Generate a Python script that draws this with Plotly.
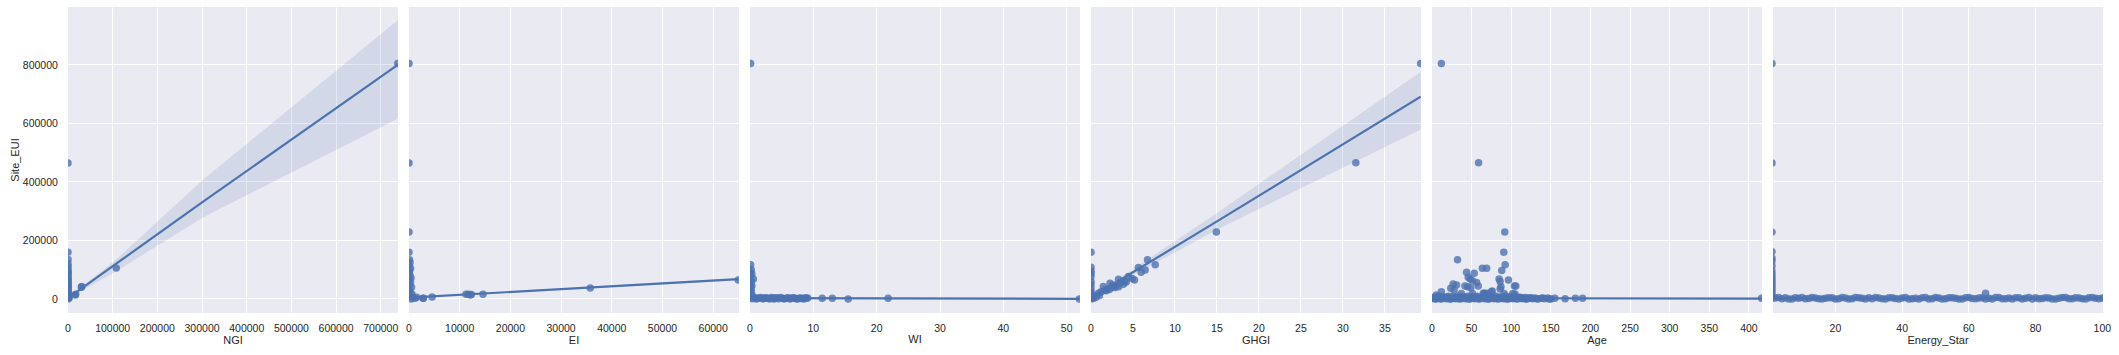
import plotly.graph_objects as go

# ---------------- data ----------------
y_label = "Site_EUI"

# NGI panel
ngi_x = [0, 0, 200, 100, 300, 0, 500, 200, 0, 400, 100, 600, 0, 300, 800, 0, 200, 1200, 500, 0, 1500, 2500, 900,
         16500, 17200, 30000, 30600, 108000, 738000]
ngi_y = [465000, 160000, 135000, 120000, 110000, 100000, 92000, 85000, 78000, 70000, 64000, 57000, 50000, 44000,
         38000, 32000, 26000, 20000, 15000, 10000, 6000, 3000, 1000,
         13700, 16000, 40000, 42200, 106000, 805000]
ngi_fit_x = [0, 108000, 300000, 738000]
ngi_fit_y = [3000, 119700, 330000, 800000]
ngi_ci_hi = [6000, 135000, 405000, 953000]
ngi_ci_lo = [1000, 95000, 277000, 616000]

# EI panel
ei_x = [0, 0, 0, 0, 100, 200, 0, 300, 100, 0, 200, 400, 0, 300, 100, 500, 0, 200, 600, 0, 800, 1200, 1500, 400,
        2760, 2830, 4560, 11240, 11700, 12100, 12300, 14600, 35760, 64950]
ei_y = [805000, 465000, 228600, 160000, 133700, 125000, 115000, 105000, 95000, 88000, 80000, 72000, 64000, 56000,
        48000, 40000, 32000, 24000, 16000, 8000, 4000, 2000, 6000, 0,
        2400, 2000, 6900, 16000, 16500, 13700, 15000, 16500, 37700, 65100]
ei_fit_x = [0, 64950]
ei_fit_y = [4500, 67500]
ei_ci_hi = [5500, 72000]
ei_ci_lo = [3500, 63000]

# WI panel
wi_x = [0.1, 0.1, 0.2, 0.0, 0.3, 0.1, 0.53, 0.2, 0.0, 0.3, 0.1, 0.2, 0.0, 0.3, 0.1, 0.0,
        0.3, 0.8, 1.2, 1.7, 2.2, 2.6, 3.1, 3.6, 4.0, 4.5, 5.0, 5.5, 6.0, 6.5, 7.0, 7.5, 7.7, 8.2, 8.7, 9.1,
        0.5, 1.0, 1.5, 2.0, 2.4, 2.9, 3.4, 3.8, 4.3, 4.8, 5.3, 5.8, 6.3, 6.8, 7.3, 8.0, 8.5, 8.9,
        11.4, 13.0, 15.5, 21.8, 52.0]
wi_y = [805000, 116600, 100000, 92000, 85000, 78000, 68600, 60000, 52000, 45000, 38000, 30000, 22000, 15000, 8000,
        3000,
        1000, 4000, 2000, 5000, 1500, 3500, 0, 2500, 4500, 1000, 3000, 500, 4000, 2000, 3500, 0, 2500, 1500, 4000, 3000,
        5000, 0, 3000, 500, 4500, 2000, 5000, 0, 3000, 5000, 1000, 3500, 0, 4500, 1000, 3500, 0, 2000,
        2300, 2300, 0, 2300, 0]
wi_fit_x = [0, 52.0]
wi_fit_y = [3000, 500]
wi_ci_hi = [3800, 3500]
wi_ci_lo = [2200, -2500]

# GHGI panel
ghgi_x = [0, 0, 0, 0, 0, 0, 0, 0, 0, 0, 0, 0,
          39.26, 31.54, 14.93, 6.73, 7.65, 5.65, 6.45, 5.97, 5.18, 4.9, 4.46, 3.27, 2.27, 3.86, 2.87, 1.47, 1.67,
          0.88, 0.48, 0.25, 2.0, 2.5, 3.0, 3.5, 4.0, 1.2, 1.8, 2.2, 1.0, 0.6, 0.3, 0.1, 2.6, 3.3, 4.2]
ghgi_y = [160000, 108700, 95000, 88100, 76500, 60000, 50000, 36700, 25000, 18000, 10000, 4000,
          804600, 465300, 228600, 133700, 116600, 107300, 99400, 91400, 65100, 70000, 76500, 67500, 53800, 50400,
          38800, 42200, 30900, 19400, 11300, 4000, 35000, 40000, 45000, 55000, 60000, 25000, 28000, 32000, 12000,
          6000, 2000, 1000, 48000, 42000, 58000]
ghgi_fit_x = [0, 15, 39.26]
ghgi_fit_y = [4500, 265000, 691400]
ghgi_ci_hi = [6000, 294000, 776000]
ghgi_ci_lo = [3000, 237000, 579500]

# Age panel
age_x = [11.8, 58.8, 91.8, 90.6, 32.2, 92.3, 63.5, 69.0, 88.0, 43.6, 53.3, 45.7, 48.0, 51.0, 56.3, 58.4,
         84.7, 96.5, 86.0, 41.5, 45.0, 49.0, 26.7, 31.0, 23.7, 27.9, 11.8, 5.5, 104.0, 105.8, 86.0, 64.8, 69.0,
         75.0, 91.0, 102.0, 51.0, 37.0, 76.0, 104.8, 66.0, 87.0,
         0, 2, 4, 6, 8, 10, 13, 16, 19, 22, 25, 28, 31, 34, 37, 40, 43, 46, 49, 52, 55, 58, 61, 64, 67, 70, 73,
         76, 79, 82, 85, 88, 91, 94, 97, 100, 103, 106, 109, 112, 115, 118, 121, 124, 127, 130, 134, 138, 142,
         146, 150, 155, 168, 181, 190, 416,
         1, 5, 9, 12, 15, 18, 21, 24, 27, 30, 33, 36, 39, 42, 45, 48, 51, 54, 57, 60, 63, 66, 69, 72, 75, 78,
         81, 84, 87, 90, 93, 96, 99, 102, 105, 108, 111, 114, 117, 120, 125, 132, 140, 148]
age_y = [805000, 465300, 228600, 160000, 133700, 116600, 105300, 105300, 97000, 91400, 88100, 74000, 68000,
         62000, 56000, 44600, 68600, 65000, 60000, 44600, 42000, 38000, 51400, 48000, 36700, 30000, 25000, 13700,
         44600, 44600, 34000, 19400, 19400, 25000, 19000, 19000, 19000, 19000, 27400, 17000, 19400, 42000,
         2000, 6000, 500, 4000, 8000, 1000, 5000, 3000, 7000, 0, 4000, 2000, 6000, 1000, 5000, 3000, 7000, 0,
         4000, 2000, 6000, 1000, 5000, 3000, 8000, 0, 4000, 2000, 6000, 1000, 5000, 3000, 7000, 0, 4000, 2000,
         6000, 1000, 5000, 3000, 2000, 0, 4000, 2000, 1000, 3000, 0, 2000, 1000, 3000, 0, 2000, 1000, 2500,
         2000, 2000, 1500, 0,
         9000, 0, 7000, 1000, 9000, 0, 8000, 500, 9000, 0, 7000, 1000, 9000, 0, 8000, 500, 9000, 0, 7000, 1000,
         9000, 0, 8000, 500, 9000, 0, 7000, 1000, 9000, 0, 8000, 500, 7000, 0, 6000, 1000, 5000, 0, 4000, 500,
         3000, 0, 3000, 1000]
age_fit_x = [0, 416]
age_fit_y = [3000, 1000]
age_ci_hi = [4000, 4000]
age_ci_lo = [2000, -2000]

# Energy_Star panel
es_x = [1, 1, 1, 1, 1, 1, 1, 1, 1, 1, 1, 1, 1, 1, 1, 1, 1, 1, 65,
        2, 4, 5, 7, 9, 10, 12, 14, 16, 17, 19, 21, 23, 24, 26, 28, 30, 31, 33, 35, 37, 38, 40, 42, 44, 45, 47,
        49, 51, 52, 54, 56, 58, 59, 61, 63, 65, 66, 68, 70, 72, 73, 75, 77, 79, 80, 82, 84, 86, 87, 89, 91, 93,
        94, 96, 98, 100,
        3, 6, 8, 11, 13, 15, 18, 20, 22, 25, 27, 29, 32, 34, 36, 39, 41, 43, 46, 48, 50, 53, 55, 57, 60, 62,
        64, 67, 69, 71, 74, 76, 78, 81, 83, 85, 88, 90, 92, 95, 97, 99]
es_y = [805000, 465000, 228600, 162000, 140000, 130000, 113000, 96000, 85000, 75000, 65000, 55000, 45000, 35000,
        25000, 15000, 8000, 3000, 19400,
        3000, 1000, 4000, 0, 2500, 5000, 1500, 3500, 0, 2000, 4500, 1000, 3000, 0, 5000, 2000, 4000, 500, 3000,
        0, 4500, 1500, 3500, 0, 2500, 0, 5000, 1000, 3000, 0, 4000, 2000, 0, 4500, 1500, 3500, 0, 2500, 5000,
        1000, 3000, 0, 4000, 2000, 0, 4500, 1500, 3500, 0, 2500, 5000, 1000, 3000, 500, 4000, 2000, 3000,
        5000, 0, 4000, 500, 5000, 1000, 4500, 0, 5000, 500, 4000, 0, 5000, 1000, 4500, 0, 5000, 500, 4000, 0,
        5000, 1000, 4500, 0, 5000, 500, 4000, 0, 5000, 1000, 4500, 0, 5000, 500, 4000, 0, 5000, 1000, 4500, 0,
        5000, 500]
es_fit_x = [1, 100]
es_fit_y = [2300, 2300]
es_ci_hi = [3300, 3300]
es_ci_lo = [1300, 1300]

panels = [
    ("NGI", ngi_x, ngi_y, ngi_fit_x, ngi_fit_y, ngi_ci_hi, ngi_ci_lo, [0, 738600], 100000),
    ("EI", ei_x, ei_y, ei_fit_x, ei_fit_y, ei_ci_hi, ei_ci_lo, [0, 65100], 10000),
    ("WI", wi_x, wi_y, wi_fit_x, wi_fit_y, wi_ci_hi, wi_ci_lo, [0, 52.1], 10),
    ("GHGI", ghgi_x, ghgi_y, ghgi_fit_x, ghgi_fit_y, ghgi_ci_hi, ghgi_ci_lo, [0, 39.3], 5),
    ("Age", age_x, age_y, age_fit_x, age_fit_y, age_ci_hi, age_ci_lo, [0, 416.5], 50),
    ("Energy_Star", es_x, es_y, es_fit_x, es_fit_y, es_ci_hi, es_ci_lo, [1.3, 100.2], 20),
]

y_range = [-48000, 998000]

# ---------------- figure ----------------
W, H = 2119, 355
ML, MR, MT, MB = 68, 16, 7, 42
plot_w = W - ML - MR
panel_px = [(68, 398), (409, 739), (750, 1080), (1091, 1421), (1432, 1762), (1773, 2103)]

BLUE = "#4C72B0"
TXT = "#262626"
FONT = "Liberation Sans, Arial, sans-serif"

fig = go.Figure()
layout = dict(
    width=W, height=H,
    margin=dict(l=ML, r=MR, t=MT, b=MB, pad=0),
    paper_bgcolor="white", plot_bgcolor="#EAEAF2",
    showlegend=False,
    font=dict(family=FONT, color=TXT, size=11),
)

for i, (name, xs, ys, fx, fy, chi, clo, xr, dt) in enumerate(panels):
    n = i + 1
    xa = "x" if n == 1 else f"x{n}"
    ya = "y" if n == 1 else f"y{n}"
    fig.add_trace(go.Scatter(x=xs, y=ys, mode="markers", xaxis=xa, yaxis=ya,
                             marker=dict(size=7.5, color=BLUE, opacity=0.8, line=dict(width=0)),
                             hoverinfo="skip"))
    fig.add_trace(go.Scatter(x=list(fx) + list(fx)[::-1], y=list(chi) + list(clo)[::-1],
                             mode="lines", fill="toself", fillcolor="rgba(76,114,176,0.15)",
                             line=dict(width=0), xaxis=xa, yaxis=ya, hoverinfo="skip"))
    fig.add_trace(go.Scatter(x=fx, y=fy, mode="lines", xaxis=xa, yaxis=ya,
                             line=dict(color=BLUE, width=2.2), hoverinfo="skip"))
    a, b = panel_px[i]
    dom = [(a - ML) / plot_w, (b - ML) / plot_w]
    layout["xaxis" if n == 1 else f"xaxis{n}"] = dict(
        domain=dom, range=xr, tick0=0, dtick=dt, tickformat="d",
        showgrid=True, gridcolor="white", gridwidth=1.2,
        zeroline=False, showline=False,
        ticks="outside", ticklen=5, tickcolor="rgba(0,0,0,0)",
        tickfont=dict(size=10.5, color=TXT, family=FONT),
        title=dict(text=name, font=dict(size=11, color=TXT, family=FONT), standoff=2),
        anchor=ya,
    )
    yax = dict(
        range=y_range, tick0=0, dtick=200000, tickformat="d",
        showgrid=True, gridcolor="white", gridwidth=1.2,
        zeroline=False, showline=False, anchor=xa,
        ticks="outside", ticklen=7, tickcolor="rgba(0,0,0,0)",
        tickfont=dict(size=10.5, color=TXT, family=FONT),
    )
    if n == 1:
        yax["title"] = dict(text=y_label, font=dict(size=11, color=TXT, family=FONT), standoff=1)
    else:
        yax["matches"] = "y"
        yax["showticklabels"] = False
    layout["yaxis" if n == 1 else f"yaxis{n}"] = yax

fig.update_layout(**layout)
fig.write_html("out.html")
